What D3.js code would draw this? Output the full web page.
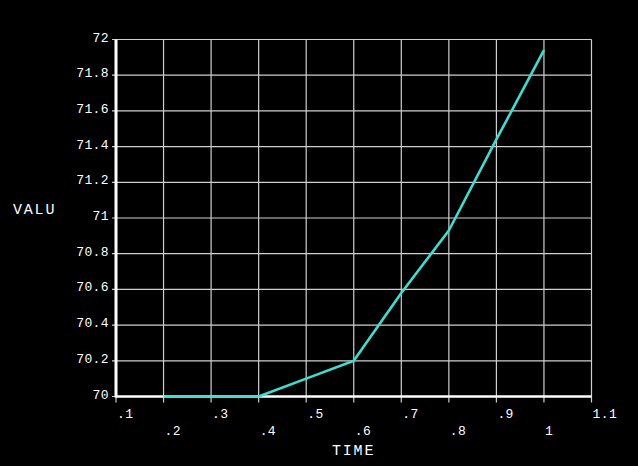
<!DOCTYPE html>
<html><head><meta charset="utf-8">
<script src="https://cdn.jsdelivr.net/npm/d3@7"></script>
<style>
html,body{margin:0;padding:0;background:#000;}
svg{display:block;}
</style></head>
<body>
<svg id="c" width="638" height="466"></svg>
<script>
const times  = [0.2, 0.3, 0.4, 0.5, 0.6, 0.7, 0.8, 0.9, 1.0];
const values = [70, 70, 70, 70.1, 70.2, 70.58, 70.93, 71.44, 71.94];
const xTicks = [0.1,0.2,0.3,0.4,0.5,0.6,0.7,0.8,0.9,1.0,1.1];
const xTickLabels = [".1",".2",".3",".4",".5",".6",".7",".8",".9","1","1.1"];
const yTicks = [70,70.2,70.4,70.6,70.8,71,71.2,71.4,71.6,71.8,72];
const yTickLabels = ["70","70.2","70.4","70.6","70.8","71","71.2","71.4","71.6","71.8","72"];
const xTitle = "TIME", yTitle = "VALU";

const svg = d3.select("#c");
svg.append("rect").attr("width",638).attr("height",466).attr("fill","#000");
const x = d3.scaleLinear().domain([0.1,1.1]).range([116,591.5]);
const y = d3.scaleLinear().domain([70,72]).range([396.5,39.5]);
const grid = "#cfcfcf";
const mono = "'Liberation Mono','DejaVu Sans Mono',monospace";

// grid lines
svg.append("g").selectAll("line").data(xTicks).join("line")
  .attr("x1",d=>x(d)).attr("x2",d=>x(d)).attr("y1",y(72)).attr("y2",y(70)+6)
  .attr("stroke",grid).attr("stroke-width",1.2);
svg.append("g").selectAll("line").data(yTicks).join("line")
  .attr("x1",x(0.1)-4).attr("x2",x(1.1)).attr("y1",d=>y(d)).attr("y2",d=>y(d))
  .attr("stroke",grid).attr("stroke-width",1.2);

// axes
svg.append("line").attr("x1",x(0.1)).attr("x2",x(0.1)).attr("y1",y(72)).attr("y2",y(70)+1)
  .attr("stroke","#fff").attr("stroke-width",3);
svg.append("line").attr("x1",x(0.1)).attr("x2",x(1.1)).attr("y1",y(70)).attr("y2",y(70))
  .attr("stroke","#fff").attr("stroke-width",2.5);

// data line
svg.append("path").datum(times.map((t,i)=>[t,values[i]]))
  .attr("d",d3.line().x(d=>x(d[0])).y(d=>y(d[1])))
  .attr("fill","none").attr("stroke","#40dcd0").attr("stroke-width",2.6)
  .attr("stroke-linejoin","round");

// y tick labels
svg.append("g").selectAll("text").data(yTicks).join("text")
  .attr("x",109).attr("y",d=>y(d)+2)
  .attr("text-anchor","end").attr("fill","#fff")
  .attr("font-family",mono).attr("font-size",13).attr("letter-spacing",0.4)
  .text((d,i)=>yTickLabels[i]);

// x tick labels (staggered)
svg.append("g").selectAll("text").data(xTicks).join("text")
  .attr("x",d=>x(d)+1).attr("y",(d,i)=>i%2===0?418:435)
  .attr("text-anchor","start").attr("fill","#fff")
  .attr("font-family",mono).attr("font-size",13).attr("letter-spacing",0.4)
  .text((d,i)=>xTickLabels[i]);

// titles
svg.append("text").attr("x",332).attr("y",455).attr("fill","#fff")
  .attr("font-family",mono).attr("font-size",15).attr("letter-spacing",1.8).text(xTitle);
svg.append("text").attr("x",13).attr("y",213.5).attr("fill","#fff")
  .attr("font-family",mono).attr("font-size",15).attr("letter-spacing",1.8).text(yTitle);
</script>
</body></html>
